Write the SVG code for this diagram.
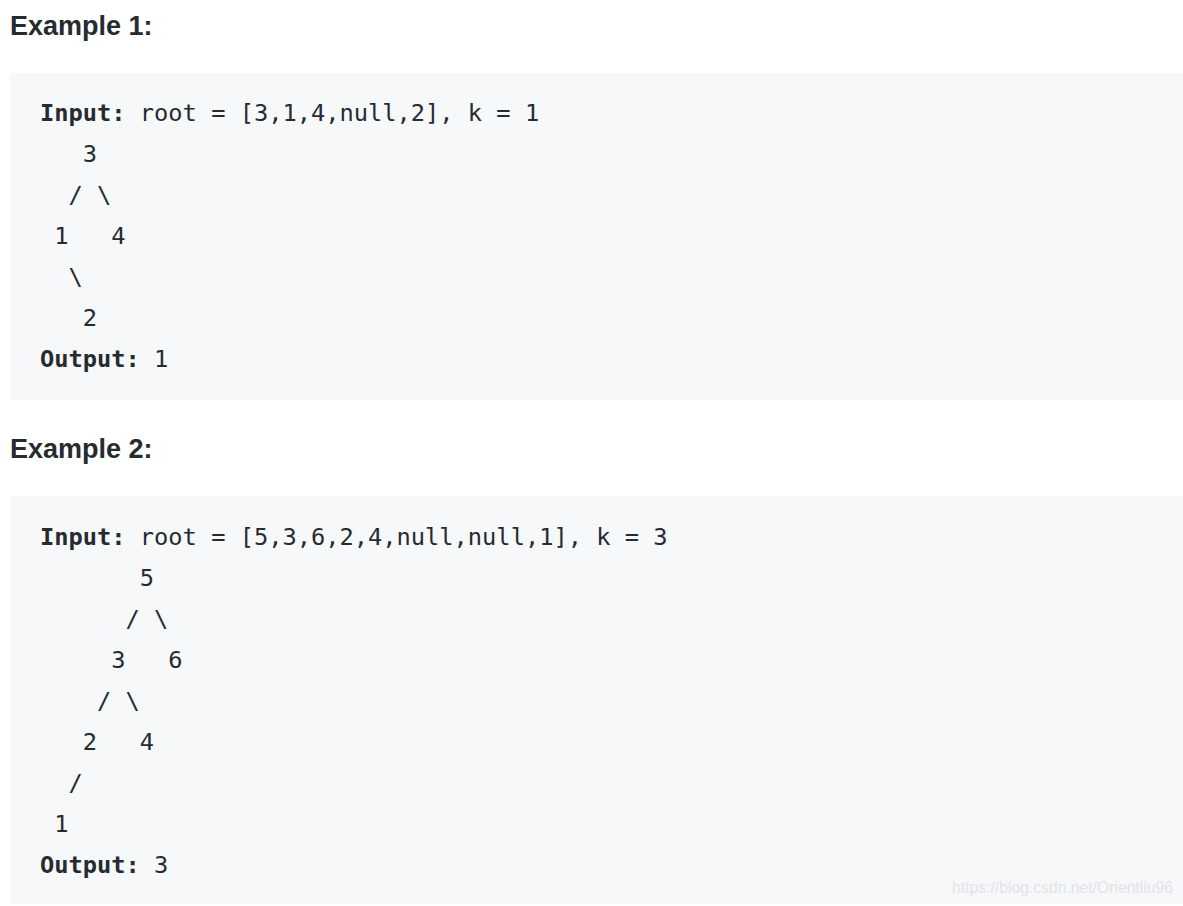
<svg xmlns="http://www.w3.org/2000/svg" width="1183" height="906" viewBox="0 0 1183 906">
<style>
.h{font-family:"Liberation Sans",Arial,sans-serif;font-weight:bold;font-size:27px;fill:#262b30}
.c{font-family:"DejaVu Sans Mono","Liberation Mono",monospace;font-size:23.7px;fill:#262b30;white-space:pre}
.b{font-weight:bold}
.box{fill:#f6f8fa}
.wm{font-family:"Liberation Sans",Arial,sans-serif;font-size:16px;fill:#e2e4e6}
</style>
<rect width="1183" height="906" fill="#ffffff"/>
<g id="example1">
<text class="h" x="10" y="35">Example 1:</text>
<rect class="box" x="10" y="73" width="1183" height="327" rx="5"/>
<text class="c" x="40" y="121" xml:space="preserve"><tspan class="b">Input:</tspan> root = [3,1,4,null,2], k = 1</text>
<text class="c" x="40" y="162" xml:space="preserve">   3</text>
<text class="c" x="40" y="203" xml:space="preserve">  / \</text>
<text class="c" x="40" y="244" xml:space="preserve"> 1   4</text>
<text class="c" x="40" y="285" xml:space="preserve">  \</text>
<text class="c" x="40" y="326" xml:space="preserve">   2</text>
<text class="c" x="40" y="367" xml:space="preserve"><tspan class="b">Output:</tspan> 1</text>
</g>
<g id="example2">
<text class="h" x="10" y="458">Example 2:</text>
<rect class="box" x="10" y="496" width="1183" height="408" rx="5"/>
<text class="c" x="40" y="545" xml:space="preserve"><tspan class="b">Input:</tspan> root = [5,3,6,2,4,null,null,1], k = 3</text>
<text class="c" x="40" y="586" xml:space="preserve">       5</text>
<text class="c" x="40" y="627" xml:space="preserve">      / \</text>
<text class="c" x="40" y="668" xml:space="preserve">     3   6</text>
<text class="c" x="40" y="709" xml:space="preserve">    / \</text>
<text class="c" x="40" y="750" xml:space="preserve">   2   4</text>
<text class="c" x="40" y="791" xml:space="preserve">  /</text>
<text class="c" x="40" y="832" xml:space="preserve"> 1</text>
<text class="c" x="40" y="873" xml:space="preserve"><tspan class="b">Output:</tspan> 3</text>
</g>
<text class="wm" x="952" y="893" textLength="221" lengthAdjust="spacingAndGlyphs">https://blog.csdn.net/Orientliu96</text>
</svg>
